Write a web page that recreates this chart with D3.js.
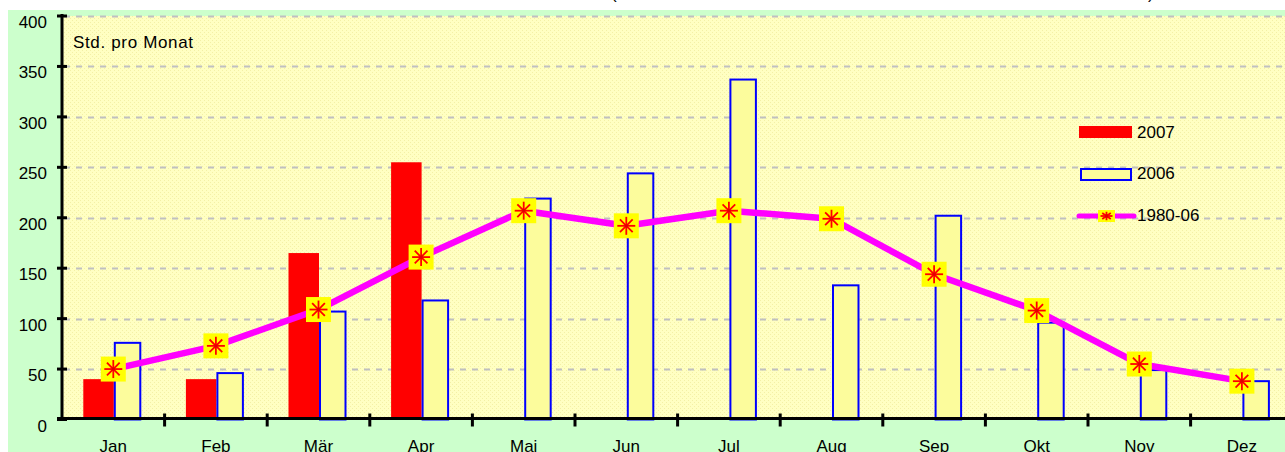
<!DOCTYPE html>
<html>
<head>
<meta charset="utf-8">
<script src="https://cdn.jsdelivr.net/npm/d3@7/dist/d3.min.js"></script>
<style>
  html, body { margin: 0; padding: 0; background: #fff; overflow: hidden; }
  svg { display: block; }
  text { font-family: "Liberation Sans", Arial, sans-serif; fill: #000; }
</style>
</head>
<body>
<svg id="chart" width="1285" height="452"></svg>
<script>
// Sonnenstunden pro Monat
const months = ["Jan", "Feb", "Mär", "Apr", "Mai", "Jun", "Jul", "Aug", "Sep", "Okt", "Nov", "Dez"];
const sun2007 = [40, 40, 165, 255, null, null, null, null, null, null, null, null];
const sun2006 = [76, 46, 107, 118, 219, 244, 337, 133, 202, 96, 49, 38];
const sunAvg = [50, 73, 109, 161, 207, 192, 207, 199, 144, 108, 55, 38];
const yTicks = [0, 50, 100, 150, 200, 250, 300, 350, 400];
const legendItems = ["2007", "2006", "1980-06"];

const svg = d3.select("#chart");

const left = 62, bandW = 102.6;
const x = d3.scaleBand().domain(months).range([left, left + 12 * bandW]);
const y = d3.scaleLinear().domain([0, 400]).range([419.5, 16]);
const cx = m => x(m) + x.bandwidth() / 2;

// dotted background pattern
const defs = svg.append("defs");
const pat = defs.append("pattern")
    .attr("id", "dots")
    .attr("width", 4).attr("height", 4)
    .attr("patternUnits", "userSpaceOnUse");
pat.append("rect").attr("width", 4).attr("height", 4).attr("fill", "#ffffc2");
pat.append("rect").attr("x", 0).attr("y", 0).attr("width", 1).attr("height", 1).attr("fill", "#f3f0a6");
pat.append("rect").attr("x", 2).attr("y", 2).attr("width", 1).attr("height", 1).attr("fill", "#f3f0a6");

// panel + plot area
svg.append("rect").attr("x", 8).attr("y", 10).attr("width", 1285).attr("height", 452).attr("fill", "#ccffcc");
svg.append("rect")
    .attr("x", left).attr("y", y(400))
    .attr("width", 1285 - left).attr("height", y(0) - y(400))
    .attr("fill", "url(#dots)");

// cut-off title remnants
svg.append("text").attr("x", 611).attr("y", -1).style("font-size", "17px").text("(");
svg.append("text").attr("x", 1148).attr("y", -1).style("font-size", "17px").text(")");

// grid
svg.append("g").selectAll("line")
    .data(yTicks.filter(d => d > 0))
    .join("line")
    .attr("x1", left + 2).attr("x2", 1285)
    .attr("y1", d => Math.round(y(d)) + 0.5).attr("y2", d => Math.round(y(d)) + 0.5)
    .attr("stroke", "#c0c0c0").attr("stroke-width", 2)
    .attr("stroke-dasharray", "6,6");

// 2007 bars
svg.append("g").selectAll("rect")
    .data(months.map((m, i) => ({ m, v: sun2007[i] })).filter(d => d.v != null))
    .join("rect")
    .attr("x", d => cx(d.m) - 30)
    .attr("y", d => y(d.v))
    .attr("width", 30.5)
    .attr("height", d => y(0) - y(d.v))
    .attr("fill", "#ff0000");

// 2006 bars
svg.append("g").selectAll("rect")
    .data(months.map((m, i) => ({ m, v: sun2006[i] })))
    .join("rect")
    .attr("x", d => cx(d.m) + 1.5)
    .attr("y", d => y(d.v))
    .attr("width", 25.5)
    .attr("height", d => y(0) - y(d.v))
    .attr("fill", "#fcfc9c")
    .attr("stroke", "#0000ff").attr("stroke-width", 2);

// 1980-06 line
const line = d3.line().x(d => cx(d.m)).y(d => y(d.v));
const avgData = months.map((m, i) => ({ m, v: sunAvg[i] }));
svg.append("path")
    .datum(avgData)
    .attr("d", line)
    .attr("fill", "none")
    .attr("stroke", "#ff00ff")
    .attr("stroke-width", 6.5)
    .attr("stroke-linejoin", "round");

function marker(g, w, h, r) {
    g.append("rect")
        .attr("x", -w / 2).attr("y", -h / 2)
        .attr("width", w).attr("height", h)
        .attr("fill", "#ffff00");
    const spokes = d3.range(8).map(k => k * Math.PI / 4);
    g.selectAll("line.spoke")
        .data(spokes)
        .join("line")
        .attr("class", "spoke")
        .attr("x1", 0).attr("y1", 0)
        .attr("x2", a => Math.cos(a) * r)
        .attr("y2", a => Math.sin(a) * r * (h / w))
        .attr("stroke", "#ff0000").attr("stroke-width", 1.8);
    g.append("rect").attr("x", -1.5).attr("y", -1.5).attr("width", 3).attr("height", 3).attr("fill", "#e00000");
}

svg.append("g").selectAll("g")
    .data(avgData)
    .join("g")
    .attr("transform", d => `translate(${cx(d.m)},${y(d.v)})`)
    .each(function () { marker(d3.select(this), 25, 25, 9); });

// axes
const axisG = svg.append("g");
axisG.append("line")
    .attr("x1", left).attr("x2", left)
    .attr("y1", y(400) - 2).attr("y2", y(0) + 1)
    .attr("stroke", "#000").attr("stroke-width", 3);
axisG.append("line")
    .attr("x1", left - 5).attr("x2", 1285)
    .attr("y1", y(0) - 1).attr("y2", y(0) - 1)
    .attr("stroke", "#000").attr("stroke-width", 3);
axisG.selectAll("line.yt")
    .data(yTicks)
    .join("line")
    .attr("class", "yt")
    .attr("x1", left - 5).attr("x2", left + 5)
    .attr("y1", d => y(d)).attr("y2", d => y(d))
    .attr("stroke", "#000").attr("stroke-width", 3);
axisG.selectAll("text.yl")
    .data(yTicks)
    .join("text")
    .attr("class", "yl")
    .attr("x", 47)
    .attr("y", d => y(d) + 12)
    .attr("text-anchor", "end")
    .style("font-size", "17px")
    .text(d => d);
axisG.selectAll("line.xt")
    .data(months.slice(1))
    .join("line")
    .attr("class", "xt")
    .attr("x1", d => x(d)).attr("x2", d => x(d))
    .attr("y1", y(0) - 6).attr("y2", y(0) + 7)
    .attr("stroke", "#000").attr("stroke-width", 3);
axisG.selectAll("text.xl")
    .data(months)
    .join("text")
    .attr("class", "xl")
    .attr("x", d => cx(d))
    .attr("y", 452)
    .attr("text-anchor", "middle")
    .style("font-size", "17px")
    .text(d => d);

// unit label
svg.append("text")
    .attr("x", 73).attr("y", 48)
    .style("font-size", "17px")
    .attr("textLength", 120)
    .text("Std. pro Monat");

// legend
const lg = svg.append("g");
lg.append("rect").attr("x", 1079).attr("y", 126).attr("width", 53).attr("height", 12).attr("fill", "#ff0000");
lg.append("rect").attr("x", 1081).attr("y", 169).attr("width", 50).attr("height", 11)
    .attr("fill", "#fcfc9c").attr("stroke", "#0000ff").attr("stroke-width", 2);
lg.append("line").attr("x1", 1079).attr("x2", 1134).attr("y1", 216).attr("y2", 216)
    .attr("stroke", "#ff00ff").attr("stroke-width", 5).attr("stroke-linecap", "round");
marker(lg.append("g").attr("transform", "translate(1106.5,216)"), 17, 12, 6);
lg.selectAll("text")
    .data(legendItems)
    .join("text")
    .attr("x", 1137)
    .attr("y", (d, i) => [138, 179, 221][i])
    .style("font-size", "17px")
    .text(d => d);
</script>
</body>
</html>
